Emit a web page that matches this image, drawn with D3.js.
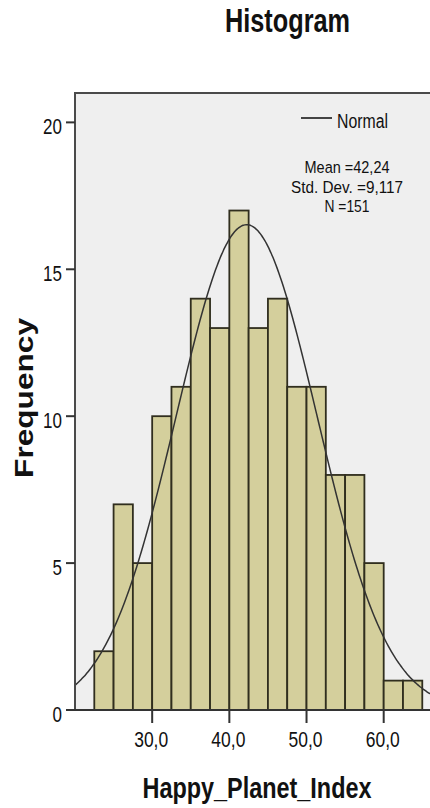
<!DOCTYPE html>
<html><head><meta charset="utf-8">
<script src="https://cdn.jsdelivr.net/npm/d3@7"></script>
<style>
body{margin:0;background:#fff;}
svg{display:block;}
text{font-family:"Liberation Sans",Arial,sans-serif;}
</style>
</head><body>
<svg id="c" width="430" height="808"></svg>
<script>
// ---- data ----
const binStarts = [22.5,25,27.5,30,32.5,35,37.5,40,42.5,45,47.5,50,52.5,55,57.5,60,62.5];
const frequencies = [2,7,5,10,11,14,13,17,13,14,11,11,8,8,5,1,1];
const binWidth = 2.5;
const xTicks = [30,40,50,60];
const xTickLabels = ["30,0","40,0","50,0","60,0"];
const yTicks = [0,5,10,15,20];
const yTickLabels = ["0","5","10","15","20"];
const normalMean = 42.24, normalSD = 9.117, normalN = 151;
const statLines = ["Mean =42,24","Std. Dev. =9,117","N =151"];
const titleText = "Histogram", xTitle = "Happy_Planet_Index", yTitle = "Frequency", legendLabel = "Normal";

// ---- layout ----
const S = 1.3; // vertical stretch of the reference
const svg = d3.select("#c");
const pLeft = 75, pRight = 430, pTop = 93, pBottom = 710;
const x = d3.scaleLinear().domain([20, 66]).range([pLeft, pRight]);
const y = d3.scaleLinear().domain([0, 21]).range([pBottom, pTop]);

function txt(px, py, str, size, weight, anchor, len, extra) {
  const t = svg.append("text")
    .attr("transform", `translate(${px},${py}) scale(1,${S})` + (extra || ""))
    .attr("font-size", size).attr("font-weight", weight)
    .attr("text-anchor", anchor).attr("fill", "#111").text(str);
  if (len) t.attr("textLength", len).attr("lengthAdjust", "spacingAndGlyphs");
  return t;
}

svg.append("defs").append("clipPath").attr("id","clip")
  .append("rect").attr("x", pLeft).attr("y", pTop).attr("width", pRight-pLeft).attr("height", pBottom-pTop);

// plot background
svg.append("rect").attr("x", pLeft).attr("y", pTop).attr("width", pRight-pLeft).attr("height", pBottom-pTop)
  .attr("fill", "#efefef");

// bars
svg.append("g").selectAll("rect").data(binStarts).join("rect")
  .attr("x", d => x(d)).attr("width", d => x(d+binWidth) - x(d))
  .attr("y", (d,i) => y(frequencies[i])).attr("height", (d,i) => y(0) - y(frequencies[i]))
  .attr("fill", "#d4cf9c").attr("stroke", "#302e1e").attr("stroke-width", 1.8);

// normal curve
const pts = d3.range(20, 66.01, 0.2);
const dens = v => normalN*binWidth/(normalSD*Math.sqrt(2*Math.PI))*Math.exp(-0.5*((v-normalMean)/normalSD)**2);
svg.append("path").datum(pts)
  .attr("clip-path","url(#clip)")
  .attr("d", d3.line().x(d => x(d)).y(d => y(dens(d))).curve(d3.curveBasis))
  .attr("fill","none").attr("stroke","#333").attr("stroke-width",1.5);

// frame
svg.append("path").attr("d", `M${pLeft},${pBottom}V${pTop}H${pRight+5}`)
  .attr("fill","none").attr("stroke","#4a4a4a").attr("stroke-width",2);
svg.append("line").attr("x1", pLeft-1).attr("x2", pRight+5).attr("y1", pBottom).attr("y2", pBottom)
  .attr("stroke","#333").attr("stroke-width",2);

// y axis ticks
yTicks.forEach((v,i) => {
  svg.append("line").attr("x1", pLeft-9).attr("x2", pLeft).attr("y1", y(v)).attr("y2", y(v))
    .attr("stroke","#333").attr("stroke-width",2);
  txt(pLeft-13, y(v)+11.5, yTickLabels[i], 17, "normal", "end", null);
});
// x axis ticks
xTicks.forEach((v,i) => {
  svg.append("line").attr("x1", x(v)).attr("x2", x(v)).attr("y1", pBottom).attr("y2", pBottom+13)
    .attr("stroke","#333").attr("stroke-width",2);
  txt(x(v)-1, 747, xTickLabels[i], 17.5, "normal", "middle", 34);
});

// titles
txt(287.5, 32, titleText, 25, "bold", "middle", 125);
txt(257, 798, xTitle, 23, "bold", "middle", 229);
txt(33, 398, yTitle, 25, "bold", "middle", 123, " rotate(-90)");

// legend
svg.append("line").attr("x1", 301).attr("x2", 332).attr("y1", 118).attr("y2", 118)
  .attr("stroke","#444").attr("stroke-width",2);
txt(337, 128, legendLabel, 16, "normal", "start", 51);
const statLens = [85, 112, 45];
const statY = [173, 193, 212];
statLines.forEach((s,i) => txt(347, statY[i], s, 13, "normal", "middle", statLens[i]));
</script>
</body></html>
